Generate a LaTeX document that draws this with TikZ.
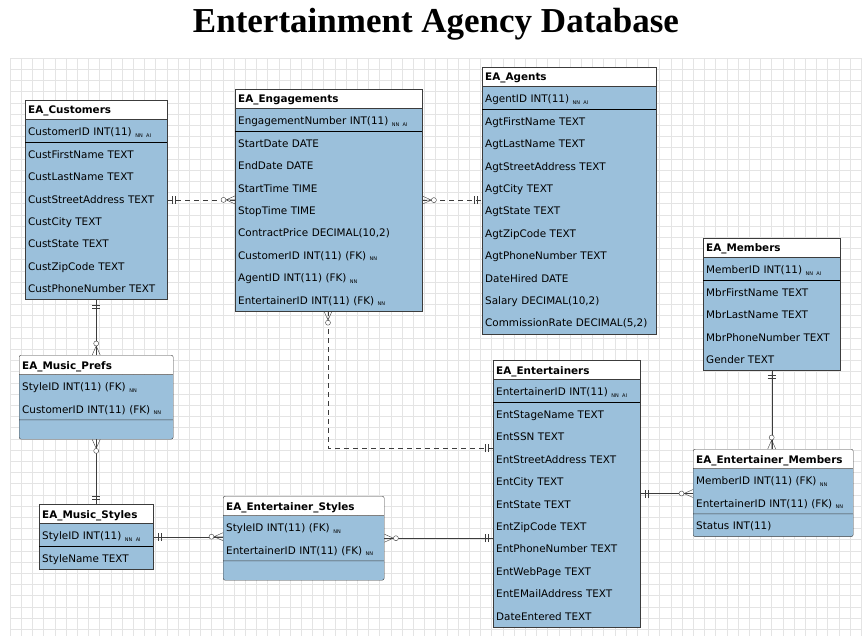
\documentclass[tikz,border=0pt]{standalone}
\usepackage{fontspec}
\setmainfont{DejaVu Sans}
\newfontfamily\titlefont{Liberation Serif}
\usepackage{tikz}
\usetikzlibrary{shapes.multipart,decorations.markings}
\definecolor{eaBlue}{HTML}{9BC0DB}
\definecolor{eaLine}{HTML}{3C3C3C}
\definecolor{eaGrid}{HTML}{E4E4E4}
\newcommand\rowstrut{\rule[-6.6pt]{0pt}{22.4pt}}
\newcommand\headstrut{\rule[-5.4pt]{0pt}{19pt}}
\newcommand\keyflags[1]{\raisebox{-1.6pt}{\fontsize{5}{5}\selectfont #1}}
\tikzset{
  table box/.style={rectangle split,rectangle split parts=3,draw=eaLine,thin,
    rectangle split part fill={white,eaBlue,eaBlue},anchor=north west,
    inner xsep=3pt,inner ysep=0pt,align=left,font=\fontsize{10.4}{22.4}\selectfont},
  assoc box/.style={table box,rounded corners=2pt},
  key rule/.style={draw=black,line width=1.4pt},
  er link/.style={draw=eaLine,thin},
  er dashed/.style={er link,dash pattern=on 5pt off 4pt},
  one to many/.style={postaction={decorate,decoration={markings,
    mark=at position 0 with {\draw[solid,thin] (5pt,-4pt) -- (5pt,4pt) (8pt,-4pt) -- (8pt,4pt);},
    mark=at position 1 with {\draw[solid,thin] (-9pt,0) -- (0,4pt) (-9pt,0) -- (0,-4pt) (-9pt,0) -- (0,0);
      \draw[solid,thin,fill=white] (-11.5pt,0) circle (2.5pt);}}}},
  many to one/.style={postaction={decorate,decoration={markings,
    mark=at position 0 with {\draw[solid,thin] (9pt,0) -- (0,4pt) (9pt,0) -- (0,-4pt) (9pt,0) -- (0,0);
      \draw[solid,thin,fill=white] (11.5pt,0) circle (2.5pt);},
    mark=at position 1 with {\draw[solid,thin] (-5pt,-4pt) -- (-5pt,4pt) (-8pt,-4pt) -- (-8pt,4pt);}}}}
}

\begin{document}
\begin{tikzpicture}[x=1pt,y=-1pt]
\useasboundingbox (0,0) rectangle (862,636);
% grid paper
\foreach \gx in {10,21.2,...,862} \draw[eaGrid,line width=0.5pt] (\gx,58) -- (\gx,636);
\foreach \gy in {58,69.2,...,636} \draw[eaGrid,line width=0.5pt] (10,\gy) -- (862,\gy);
\node[font=\titlefont\bfseries\fontsize{35}{40}\selectfont,anchor=base] (title) at (436,33) {Entertainment Agency Database};

% tables
\node[table box,text width=136pt] (customers) at (25,100)
  {\textbf{EA\_Customers}\headstrut
   \nodepart{two}\rowstrut CustomerID INT(11) \keyflags{NN AI}
   \nodepart{three}\rowstrut CustFirstName TEXT\\ \rowstrut CustLastName TEXT\\
   \rowstrut CustStreetAddress TEXT\\ \rowstrut CustCity TEXT\\ \rowstrut CustState TEXT\\
   \rowstrut CustZipCode TEXT\\ \rowstrut CustPhoneNumber TEXT};
\node[table box,text width=181pt] (engagements) at (235,89)
  {\textbf{EA\_Engagements}\headstrut
   \nodepart{two}\rowstrut EngagementNumber INT(11) \keyflags{NN AI}
   \nodepart{three}\rowstrut StartDate DATE\\ \rowstrut EndDate DATE\\ \rowstrut StartTime TIME\\
   \rowstrut StopTime TIME\\ \rowstrut ContractPrice DECIMAL(10,2)\\
   \rowstrut CustomerID INT(11) (FK) \keyflags{NN}\\ \rowstrut AgentID INT(11) (FK) \keyflags{NN}\\
   \rowstrut EntertainerID INT(11) (FK) \keyflags{NN}};
\node[table box,text width=168pt] (agents) at (482,67)
  {\textbf{EA\_Agents}\headstrut
   \nodepart{two}\rowstrut AgentID INT(11) \keyflags{NN AI}
   \nodepart{three}\rowstrut AgtFirstName TEXT\\ \rowstrut AgtLastName TEXT\\
   \rowstrut AgtStreetAddress TEXT\\ \rowstrut AgtCity TEXT\\ \rowstrut AgtState TEXT\\
   \rowstrut AgtZipCode TEXT\\ \rowstrut AgtPhoneNumber TEXT\\ \rowstrut DateHired DATE\\
   \rowstrut Salary DECIMAL(10,2)\\ \rowstrut CommissionRate DECIMAL(5,2)};
\node[table box,text width=131pt] (members) at (703,238)
  {\textbf{EA\_Members}\headstrut
   \nodepart{two}\rowstrut MemberID INT(11) \keyflags{NN AI}
   \nodepart{three}\rowstrut MbrFirstName TEXT\\ \rowstrut MbrLastName TEXT\\
   \rowstrut MbrPhoneNumber TEXT\\ \rowstrut Gender TEXT};
\node[assoc box,text width=148pt] (musicprefs) at (19,355)
  {\textbf{EA\_Music\_Prefs}\headstrut
   \nodepart{two}\rowstrut StyleID INT(11) (FK) \keyflags{NN}\\ \rowstrut CustomerID INT(11) (FK) \keyflags{NN}
   \nodepart{three}\rule{0pt}{19pt}};
\node[table box,text width=108pt] (musicstyles) at (39,504)
  {\textbf{EA\_Music\_Styles}\headstrut
   \nodepart{two}\rowstrut StyleID INT(11) \keyflags{NN AI}
   \nodepart{three}\rowstrut StyleName TEXT};
\node[assoc box,text width=155pt] (entstyles) at (223,496)
  {\textbf{EA\_Entertainer\_Styles}\headstrut
   \nodepart{two}\rowstrut StyleID INT(11) (FK) \keyflags{NN}\\ \rowstrut EntertainerID INT(11) (FK) \keyflags{NN}
   \nodepart{three}\rule{0pt}{19pt}};
\node[table box,text width=141pt] (entertainers) at (493,360)
  {\textbf{EA\_Entertainers}\headstrut
   \nodepart{two}\rowstrut EntertainerID INT(11) \keyflags{NN AI}
   \nodepart{three}\rowstrut EntStageName TEXT\\ \rowstrut EntSSN TEXT\\
   \rowstrut EntStreetAddress TEXT\\ \rowstrut EntCity TEXT\\ \rowstrut EntState TEXT\\
   \rowstrut EntZipCode TEXT\\ \rowstrut EntPhoneNumber TEXT\\ \rowstrut EntWebPage TEXT\\
   \rowstrut EntEMailAddress TEXT\\ \rowstrut DateEntered TEXT};
\node[assoc box,text width=154pt] (entmembers) at (693,449)
  {\textbf{EA\_Entertainer\_Members}\headstrut
   \nodepart{two}\rowstrut MemberID INT(11) (FK) \keyflags{NN}\\ \rowstrut EntertainerID INT(11) (FK) \keyflags{NN}
   \nodepart{three}\rowstrut Status INT(11)};

% primary key rules
\foreach \tbl in {customers,engagements,agents,members,musicstyles,entertainers}
  \draw[key rule] (\tbl.two split west) -- (\tbl.two split east);

% relationships
\coordinate (engbend) at (328,448);
\draw[er dashed,one to many] (customers.east) -- (customers.east -| engagements.west);
\draw[er dashed,many to one] (engagements.east) -- (engagements.east -| agents.west);
\draw[er dashed,many to one] (engbend |- engagements.south) -- (engbend) -- (engbend -| entertainers.west);
\draw[er link,one to many] (customers.south) -- (customers.south |- musicprefs.north);
\draw[er link,many to one] (musicprefs.south) -- (musicprefs.south |- musicstyles.north);
\draw[er link,one to many] (musicstyles.east) -- (musicstyles.east -| entstyles.west);
\draw[er link,many to one] (entstyles.east) -- (entstyles.east -| entertainers.west);
\draw[er link,one to many] (entertainers.east) -- (entertainers.east -| entmembers.west);
\draw[er link,one to many] (members.south) -- (members.south |- entmembers.north);
\end{tikzpicture}
\end{document}
